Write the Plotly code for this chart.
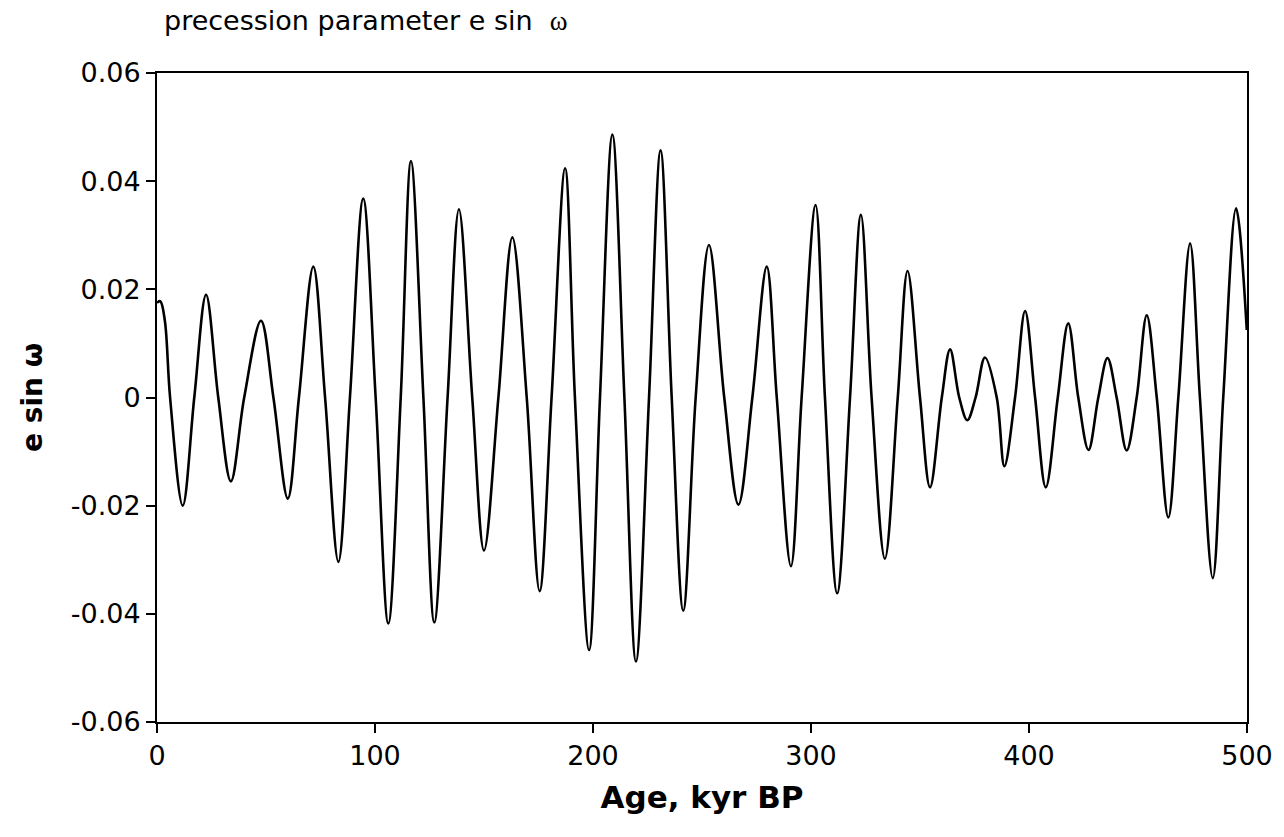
import plotly.graph_objects as go

# Age (kyr BP) and precession parameter e sin(omega)
age = [0, 1.5, 3.6, 6.0, 11.8, 17.1, 22.5, 28.1, 33.9, 40.0, 47.7, 53.4, 60.0, 65.1, 71.7, 77.1,
       83.2, 88.5, 94.6, 100.3, 106.1, 111.8, 116.5, 122.2, 127.2, 133.3, 138.5, 144.6, 150.0,
       156.6, 163.0, 169.6, 175.5, 181.0, 187.2, 191.7, 198.2, 203.2, 208.9, 214.4, 219.7, 225.7,
       231.0, 236.1, 241.4, 247.1, 253.2, 260.2, 266.7, 273.1, 279.7, 284.3, 290.8, 295.7, 302.1,
       306.4, 312.0, 317.9, 322.9, 327.8, 333.9, 339.8, 344.3, 350.0, 354.6, 360.0, 363.8, 368.0,
       371.7, 375.5, 379.8, 385.2, 388.7, 393.6, 398.2, 402.8, 407.7, 413.2, 418.0, 422.6, 427.3,
       431.8, 436.0, 440.2, 444.8, 449.4, 454.0, 458.6, 463.9, 468.5, 473.9, 478.4, 484.3, 489.1,
       495.0, 499.9]
esinw = [0.0175, 0.0178, 0.0142, 0.0, -0.0200, 0.0, 0.0190, 0.0, -0.0155, 0.0, 0.0142, 0.0,
         -0.0187, 0.0, 0.0242, 0.0, -0.0304, 0.0, 0.0368, 0.0, -0.0418, 0.0, 0.0437, 0.0, -0.0416,
         0.0, 0.0348, 0.0, -0.0283, 0.0, 0.0296, 0.0, -0.0358, 0.0, 0.0424, 0.0, -0.0467, 0.0,
         0.0486, 0.0, -0.0488, 0.0, 0.0457, 0.0, -0.0394, 0.0, 0.0282, 0.0, -0.0198, 0.0, 0.0242,
         0.0, -0.0312, 0.0, 0.0356, 0.0, -0.0362, 0.0, 0.0338, 0.0, -0.0298, 0.0, 0.0234, 0.0,
         -0.0166, 0.0, 0.0089, 0.0, -0.0042, 0.0, 0.0074, 0.0, -0.0127, 0.0, 0.0160, 0.0, -0.0166,
         0.0, 0.0137, 0.0, -0.0097, 0.0, 0.0073, 0.0, -0.0098, 0.0, 0.0152, 0.0, -0.0222, 0.0,
         0.0285, 0.0, -0.0334, 0.0, 0.0350, 0.0125]

x_ticks = [0, 100, 200, 300, 400, 500]
y_ticks = [0.06, 0.04, 0.02, 0, -0.02, -0.04, -0.06]
y_tick_labels = ["0.06", "0.04", "0.02", "0", "-0.02", "-0.04", "-0.06"]

FONT = "DejaVu Sans, Liberation Sans, Arial, sans-serif"

fig = go.Figure()
fig.add_trace(go.Scatter(
    x=age, y=esinw, mode="lines",
    line=dict(color="black", width=2.6, shape="spline", smoothing=1.0),
    hoverinfo="skip", showlegend=False,
))

axis_common = dict(
    showline=True, linecolor="black", linewidth=2, mirror=True,
    ticks="outside", ticklen=9, tickwidth=2, tickcolor="black",
    showgrid=False, zeroline=False,
    tickfont=dict(family=FONT, size=27, color="black"),
)

fig.update_layout(
    width=1284, height=837,
    margin=dict(l=157, r=37, t=73, b=115),
    paper_bgcolor="white", plot_bgcolor="white",
    xaxis=dict(range=[0, 500], tickvals=x_ticks,
               title=dict(text="<b>Age, kyr BP</b>", font=dict(family=FONT, size=31, color="black"),
                          standoff=16),
               **axis_common),
    yaxis=dict(range=[-0.06, 0.06], tickvals=y_ticks, ticktext=y_tick_labels,
               title=dict(text="<b>e sin ω</b>", font=dict(family=FONT, size=28, color="black"),
                          standoff=20),
               **axis_common),
    annotations=[dict(
        text='precession parameter e sin  <span style="font-family:Liberation Serif, Times New Roman, serif">ω</span>',
        x=(162 - 157) / (1284 - 157 - 37), y=1 + (73 - 21) / (837 - 73 - 115),
        xref="paper", yref="paper", showarrow=False,
        font=dict(family=FONT, size=27, color="black"),
        xanchor="left", yanchor="middle",
    )],
)

fig.write_html("out.html")
